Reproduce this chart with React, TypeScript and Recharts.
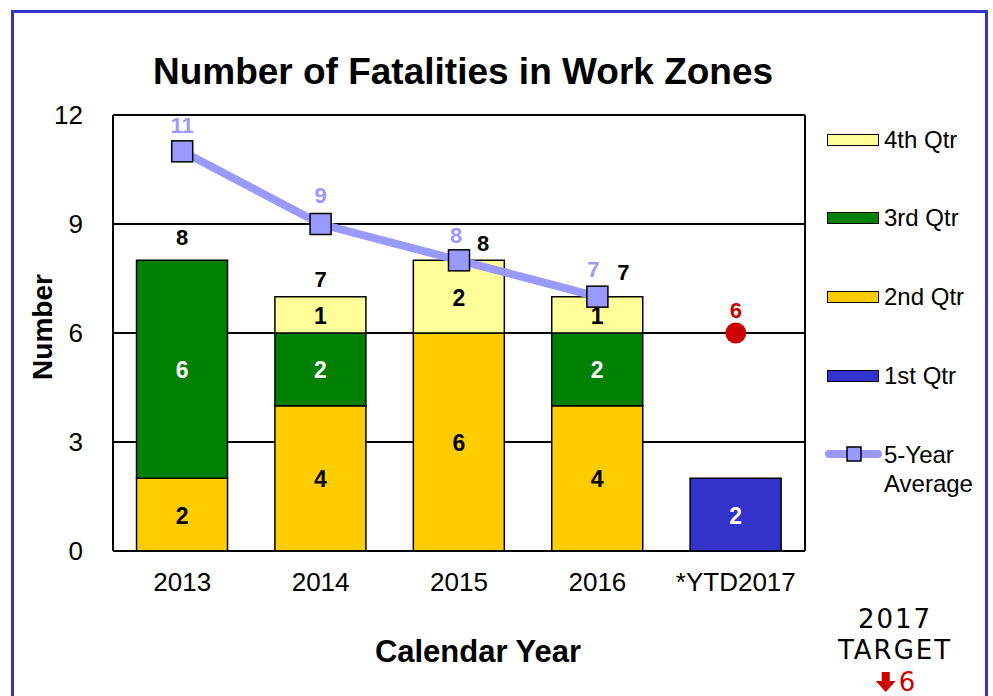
import React from 'react';
import {
  ComposedChart, Bar, Line, XAxis, YAxis, CartesianGrid, LabelList,
} from 'recharts';

const years = ['2013', '2014', '2015', '2016', '*YTD2017'];
const q1 = [0, 0, 0, 0, 2];
const q2 = [2, 4, 6, 4, 0];
const q3 = [6, 2, 0, 2, 0];
const q4 = [0, 1, 2, 1, 0];
const totals: (number | null)[] = [8, 7, 8, 7, null];
const avg5: (number | null)[] = [11, 9, 8, 7, null];
const target: (number | null)[] = [null, null, null, null, 6];
const yTicks = [0, 3, 6, 9, 12];

const data = years.map((year, i) => ({
  year, q1: q1[i], q2: q2[i], q3: q3[i], q4: q4[i],
  total: totals[i], avg: avg5[i], target: target[i],
}));

const FONT = '"Liberation Sans", Arial, Helvetica, sans-serif';
const C_Q1 = '#3333cc';
const C_Q2 = '#ffcc00';
const C_Q3 = '#008000';
const C_Q4 = '#ffff99';
const C_AVG = '#9999ff';
const C_RED = '#cc0000';

// label nudges (style only)
const totalDx = [0, 0, 24, 26, 0];
const totalDy = [-23, -17, -17, -24, 0];
const avgDx = [0, 0, -3, -4, 0];
const avgDy = [-26, -29, -25, -27, 0];

const segLabel = (color: string) => (props: any) => {
  const { x, y, width, height, value } = props;
  if (!value) return null;
  return (
    <text x={x + width / 2} y={y + height / 2 + 1} fill={color} textAnchor="middle"
      dominantBaseline="central" fontFamily={FONT} fontWeight="bold" fontSize={23}>
      {value}
    </text>
  );
};

const totalLabel = (props: any) => {
  const { x, y, value, index } = props;
  if (value == null) return null;
  return (
    <text x={x + totalDx[index]} y={y + totalDy[index]} fill="#000" textAnchor="middle"
      dominantBaseline="central" fontFamily={FONT} fontWeight="bold" fontSize={22}>
      {value}
    </text>
  );
};

const avgLabel = (props: any) => {
  const { x, y, value, index } = props;
  if (value == null) return null;
  return (
    <text x={x + avgDx[index]} y={y + avgDy[index]} fill={C_AVG} textAnchor="middle"
      dominantBaseline="central" fontFamily={FONT} fontWeight="bold" fontSize={22}>
      {value}
    </text>
  );
};

const targetLabel = (props: any) => {
  const { x, y, value } = props;
  if (value == null) return null;
  return (
    <text x={x} y={y - 23} fill={C_RED} textAnchor="middle"
      dominantBaseline="central" fontFamily={FONT} fontWeight="bold" fontSize={22}>
      {value}
    </text>
  );
};

const SquareDot = (props: any) => {
  const { cx, cy, payload } = props;
  if (cx == null || cy == null || payload?.avg == null) return null;
  return <rect x={cx - 10.5} y={cy - 10.5} width={21} height={21} fill={C_AVG} stroke="#000" strokeWidth={1.5} />;
};

const RedDot = (props: any) => {
  const { cx, cy, payload } = props;
  if (cx == null || cy == null || payload?.target == null) return null;
  return <circle cx={cx} cy={cy} r={10.5} fill={C_RED} />;
};

const legendItems = [
  { label: '4th Qtr', color: C_Q4, top: 140 },
  { label: '3rd Qtr', color: C_Q3, top: 218 },
  { label: '2nd Qtr', color: C_Q2, top: 297 },
  { label: '1st Qtr', color: C_Q1, top: 376 },
];

const plotEdges = (args: any) => {
  const off = args.offset || {};
  return [off.left, off.left + off.width];
};

const NOTE_FONT = '"DejaVu Sans", sans-serif';

export default function App() {
  return (
    <div style={{ position: 'absolute', left: 0, top: 0, width: 993, height: 696, background: '#fff', overflow: 'hidden', fontFamily: FONT }}>
      {/* frame */}
      <div style={{ position: 'absolute', left: 11, top: 10, width: 977, height: 720, border: `3px solid ${C_Q1}`, boxSizing: 'border-box' }} />
      {/* title */}
      <div style={{ position: 'absolute', left: 0, width: 926, top: 50, textAlign: 'center', fontSize: 37, fontWeight: 'bold', lineHeight: '44px' }}>
        Number of Fatalities in Work Zones
      </div>
      {/* y-axis title */}
      <div style={{ position: 'absolute', left: 43, top: 327, transform: 'translate(-50%, -50%) rotate(-90deg)', fontSize: 28, fontWeight: 'bold', whiteSpace: 'nowrap' }}>
        Number
      </div>
      {/* x-axis title */}
      <div style={{ position: 'absolute', left: 478, top: 652, transform: 'translate(-50%, -50%)', fontSize: 31, fontWeight: 'bold', whiteSpace: 'nowrap' }}>
        Calendar Year
      </div>
      <div style={{ position: 'absolute', left: 0, top: 0 }}>
        <ComposedChart width={993} height={696} data={data}
          margin={{ top: 115, right: 188, bottom: 115, left: 53 }}
          barCategoryGap="17%">
          <CartesianGrid stroke="#000" strokeWidth={2} verticalCoordinatesGenerator={plotEdges} />
          <XAxis dataKey="year" tickLine={false} axisLine={{ stroke: '#000', strokeWidth: 2 }}
            tick={{ fill: '#000', fontSize: 26, fontFamily: FONT }} tickMargin={16} interval={0} />
          <YAxis domain={[0, 12]} ticks={yTicks} width={60} tickLine={false}
            axisLine={{ stroke: '#000', strokeWidth: 2 }}
            tick={{ fill: '#000', fontSize: 26, fontFamily: FONT }} tickMargin={24} />
          <Bar dataKey="q1" stackId="a" fill={C_Q1} stroke="#000" strokeWidth={1.5} isAnimationActive={false}>
            <LabelList dataKey="q1" content={segLabel('#fff')} />
          </Bar>
          <Bar dataKey="q2" stackId="a" fill={C_Q2} stroke="#000" strokeWidth={1.5} isAnimationActive={false}>
            <LabelList dataKey="q2" content={segLabel('#000')} />
          </Bar>
          <Bar dataKey="q3" stackId="a" fill={C_Q3} stroke="#000" strokeWidth={1.5} isAnimationActive={false}>
            <LabelList dataKey="q3" content={segLabel('#fff')} />
          </Bar>
          <Bar dataKey="q4" stackId="a" fill={C_Q4} stroke="#000" strokeWidth={1.5} isAnimationActive={false}>
            <LabelList dataKey="q4" content={segLabel('#000')} />
          </Bar>
          <Line dataKey="total" stroke="none" dot={false} activeDot={false} isAnimationActive={false}>
            <LabelList dataKey="total" content={totalLabel} />
          </Line>
          <Line dataKey="avg" stroke={C_AVG} strokeWidth={8} dot={<SquareDot />} activeDot={false} isAnimationActive={false}>
            <LabelList dataKey="avg" content={avgLabel} />
          </Line>
          <Line dataKey="target" stroke="none" dot={<RedDot />} activeDot={false} isAnimationActive={false}>
            <LabelList dataKey="target" content={targetLabel} />
          </Line>
        </ComposedChart>
      </div>
      {/* legend */}
      {legendItems.map((it) => (
        <div key={it.label} style={{ position: 'absolute', left: 827, top: it.top - 14, height: 28, display: 'flex', alignItems: 'center' }}>
          <div style={{ width: 52, height: 12, background: it.color, border: '1.5px solid #000', boxSizing: 'border-box' }} />
          <span style={{ marginLeft: 5, fontSize: 24, lineHeight: '28px' }}>{it.label}</span>
        </div>
      ))}
      <svg style={{ position: 'absolute', left: 820, top: 440 }} width={66} height={30}>
        <line x1={9} y1={14} x2={58} y2={14} stroke={C_AVG} strokeWidth={8} strokeLinecap="round" />
        <rect x={27} y={7} width={14} height={14} fill={C_AVG} stroke="#000" strokeWidth={1.5} />
      </svg>
      <div style={{ position: 'absolute', left: 884, top: 440, fontSize: 24, lineHeight: '29px' }}>
        5-Year<br />Average
      </div>
      {/* target note */}
      <div style={{ position: 'absolute', left: 895, top: 619, transform: 'translate(-50%, -50%)', fontFamily: NOTE_FONT, fontSize: 26, letterSpacing: 2, whiteSpace: 'nowrap', color: '#000' }}>2017</div>
      <div style={{ position: 'absolute', left: 895, top: 650, transform: 'translate(-50%, -50%)', fontFamily: NOTE_FONT, fontSize: 26, letterSpacing: 2, whiteSpace: 'nowrap', color: '#000' }}>TARGET</div>
      <div style={{ position: 'absolute', left: 895, top: 682, transform: 'translate(-50%, -50%)', display: 'flex', alignItems: 'center', whiteSpace: 'nowrap' }}>
        <svg width={22} height={22} style={{ marginRight: 2 }}>
          <polygon points="7,1 15,1 15,10 21,10 11,21 1,10 7,10" fill={C_RED} />
        </svg>
        <span style={{ fontFamily: NOTE_FONT, fontSize: 26, color: C_RED }}>6</span>
      </div>
    </div>
  );
}
